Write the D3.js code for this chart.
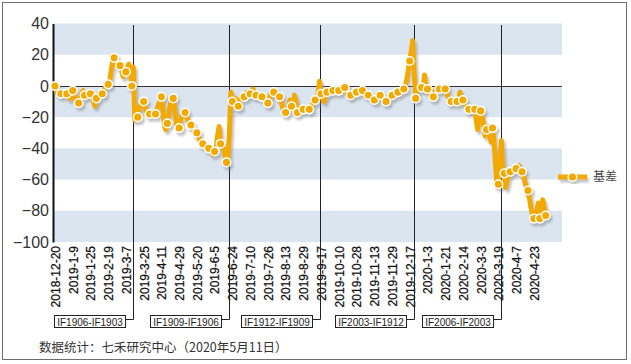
<!DOCTYPE html>
<html lang="zh">
<head>
<meta charset="UTF-8">
<title>基差</title>
<style>
  body { margin: 0; background: #fff; }
  svg text { font-family: "Liberation Sans", Arial, sans-serif; }
  .cn { font-family: "Noto Sans CJK SC", sans-serif; }
</style>
</head>
<body>
<svg class="chart"></svg>
<script src="https://cdn.jsdelivr.net/npm/d3@7/dist/d3.min.js"></script>
<script>
// tick labels, one every 12 trading days starting at index 0
var tickLabels = ["2018-12-20", "2019-1-9", "2019-1-25", "2019-2-19", "2019-3-7",
  "2019-3-25", "2019-4-11", "2019-4-29", "2019-5-20", "2019-6-5", "2019-6-24",
  "2019-7-10", "2019-7-26", "2019-8-13", "2019-8-29", "2019-9-17", "2019-10-10",
  "2019-10-28", "2019-11-13", "2019-11-29", "2019-12-17", "2020-1-3", "2020-1-21",
  "2020-2-14", "2020-3-3", "2020-3-19", "2020-4-7", "2020-4-23"];
var tickStep = 12;

// daily basis (IF main contract), 2018-12-20 .. 2020-5-11
var basis = [
  0, -3, -5, -6, -5, -4, -6, -5, -5, -7, -8, -4, -3, -6, -9, -10,
  -11, -8, -5, -3, -6, -7, -5, -4, -5, -7, -9, -13, -8, -6, -5, -6,
  -5, -3, -1, 0, 1, 3, 10, 16, 18, 15, 13, 12, 13, 11, 6, 8,
  9, 12, 14, 8, 0, 12, -22, -21, -20, -14, -12, -9, -10, -14, -17, -19,
  -18, -19, -17, -18, -18, -15, -12, -10, -7, -15, -25, -28, -24, -18, -12, -9,
  -8, -14, -24, -26, -27, -22, -18, -17, -17, -20, -22, -24, -25, -27, -28, -29,
  -30, -32, -35, -36, -37, -38, -39, -40, -40, -41, -43, -44, -42, -40, -32, -26,
  -37, -36, -40, -45, -49, -47, -30, -4, -10, -12, -8, -11, -13, -10, -7, -6,
  -7, -5, -4, -5, -5, -3, -2, -4, -6, -5, -6, -6, -7, -8, -9, -10,
  -11, -8, -5, -4, -4, -6, -7, -7, -7, -10, -14, -16, -17, -15, -13, -9,
  -13, -15, -6, -10, -17, -16, -15, -15, -15, -14, -15, -15, -15, -13, -12, -10,
  -9, -7, -5, 3, -5, -8, -10, -7, -4, -4, -3, -4, -3, -3, -2, -3,
  -3, -2, -1, -2, -1, -3, -5, -6, -6, -5, -4, -4, -4, -4, -3, -3,
  -3, -5, -6, -7, -6, -7, -8, -9, -9, -8, -7, -6, -6, -8, -9, -10,
  -10, -9, -7, -6, -6, -5, -4, -4, -4, -3, -2, -2, -2, 0, 4, 10,
  16, 22, 29, 8, -8, -3, -1, -1, -1, -2, 7, -3, -2, -4, -6, -7,
  -7, -4, -2, -2, -2, -2, -2, -2, -2, -4, -7, -9, -10, -11, -10, -10,
  -10, -9, -4, -8, -9, -11, -13, -14, -15, -15, -14, -15, -15, -22, -28, -18,
  -16, -20, -25, -32, -28, -26, -30, -36, -27, -35, -50, -64, -63, -50, -35, -55,
  -56, -65, -60, -57, -55, -54, -53, -54, -53, -52, -51, -53, -55, -58, -62, -65,
  -67, -72, -78, -82, -85, -86, -80, -75, -85, -80, -73, -78, -83, -82
];
var markerStep = 4;

// contract roll-over days and their labels
var rollIndex = [53, 118, 179, 243, 302];
var rollLabels = ["IF1906-IF1903", "IF1909-IF1906", "IF1912-IF1909", "IF2003-IF1912", "IF2006-IF2003"];

var yTicks = [40, 20, 0, -20, -40, -60, -80, -100];
var seriesName = "基差";
var note = "数据统计：七禾研究中心（2020年5月11日）";

var W = 631, H = 364;
var plot = {left: 53, right: 562, top: 23.5, bottom: 242};
var orange = "#f2a900";

var svg = d3.select(".chart").attr("width", W).attr("height", H);

var defs = svg.append("defs");
var f = defs.append("filter").attr("id", "shadow")
  .attr("x", "-10%").attr("y", "-10%").attr("width", "130%").attr("height", "130%");
f.append("feDropShadow").attr("dx", 2).attr("dy", 3).attr("stdDeviation", 1)
  .attr("flood-color", "#7a7a7a").attr("flood-opacity", 0.45);

// outer frame
svg.append("rect").attr("x", 2.5).attr("y", 2.5).attr("width", 624).attr("height", 357)
  .attr("fill", "#fff").attr("stroke", "#6e6e6e");

var x = d3.scaleLinear().domain([0, basis.length - 1]).range([55, 547.2]);
var y = d3.scaleLinear().domain([-100, 40]).range([plot.bottom, plot.top]);

// alternating bands
var bandPairs = d3.pairs(yTicks).filter(function(d, i) { return i % 2 === 0; });
svg.append("g").selectAll("rect").data(bandPairs).enter().append("rect")
  .attr("x", plot.left).attr("width", plot.right - plot.left)
  .attr("y", function(d) { return y(d[0]); })
  .attr("height", function(d) { return y(d[1]) - y(d[0]); })
  .attr("fill", "#dbe5f0");

// zero line
svg.append("line").attr("x1", plot.left).attr("x2", plot.right)
  .attr("y1", Math.round(y(0)) + 0.5).attr("y2", Math.round(y(0)) + 0.5)
  .attr("stroke", "#333");

// y axis
var yAxis = svg.append("g").attr("transform", "translate(" + plot.left + ",0)")
  .call(d3.axisLeft(y).tickValues(yTicks).tickSize(0).tickPadding(4));
yAxis.select(".domain").attr("stroke", "#111").attr("stroke-width", 2);
yAxis.selectAll("text").attr("font-size", 16).attr("fill", "#333")
  .style("font-family", "'Liberation Sans', Arial, sans-serif");

// x axis labels
var tickIdx = tickLabels.map(function(d, i) { return i * tickStep; });
var xAxis = svg.append("g").attr("transform", "translate(0," + plot.bottom + ")")
  .call(d3.axisBottom(x).tickValues(tickIdx).tickSize(0)
    .tickFormat(function(d, i) { return tickLabels[i]; }));
xAxis.select(".domain").remove();
xAxis.selectAll("text")
  .attr("transform", "rotate(-90)")
  .attr("text-anchor", "end")
  .attr("x", -4).attr("y", 0).attr("dy", "0.36em")
  .attr("font-size", 12).attr("fill", "#111")
  .attr("stroke", "#111").attr("stroke-width", 0.25)
  .style("font-family", "'Liberation Sans', Arial, sans-serif");

// roll-over lines with callout boxes
var roll = svg.append("g");
var boxY = 315.5, boxH = 12, linkY = 319.5;
rollIndex.forEach(function(idx, i) {
  var lx = Math.round(x(idx)) + 0.5;
  roll.append("path")
    .attr("d", "M" + lx + "," + 25 + "V" + linkY + "H" + (lx - 8))
    .attr("fill", "none").attr("stroke", "#222");
  var t = roll.append("text").text(rollLabels[i])
    .attr("font-size", 10).attr("fill", "#222")
    .attr("text-anchor", "middle").attr("dominant-baseline", "central");
  var w = 71;
  var bx = lx - 8 - w;
  roll.insert("rect", "text").attr("x", bx).attr("y", boxY).attr("width", w).attr("height", boxH)
    .attr("fill", "#fff").attr("stroke", "#222");
  t.attr("x", bx + w / 2).attr("y", boxY + boxH / 2 + 0.5);
});

// series
var series = svg.append("g").attr("filter", "url(#shadow)");
var line = d3.line().x(function(d, i) { return x(i); }).y(function(d) { return y(d); });
series.append("path").datum(basis).attr("d", line)
  .attr("fill", "none").attr("stroke", orange).attr("stroke-width", 5)
  .attr("stroke-linejoin", "round");
var markers = basis.map(function(v, i) { return {i: i, v: v}; })
  .filter(function(d) { return d.i % markerStep === 0; });
series.selectAll("circle").data(markers).enter().append("circle")
  .attr("cx", function(d) { return x(d.i); })
  .attr("cy", function(d) { return y(d.v); })
  .attr("r", 4.3).attr("fill", orange).attr("stroke", "#fff").attr("stroke-width", 1.5);

// legend
var lg = svg.append("g").attr("transform", "translate(558,177)");
var lgs = lg.append("g").attr("filter", "url(#shadow)");
lgs.append("line").attr("x1", 0).attr("x2", 29).attr("stroke", orange).attr("stroke-width", 5);
lgs.append("circle").attr("cx", 14.5).attr("r", 4.3).attr("fill", orange)
  .attr("stroke", "#fff").attr("stroke-width", 1.5);
lg.append("text").attr("class", "cn").attr("x", 35).attr("dy", "0.35em")
  .attr("font-size", 12).attr("fill", "#444").text(seriesName);

// source note
svg.append("text").attr("class", "cn").attr("x", 39).attr("y", 352)
  .attr("font-size", 12.5).attr("fill", "#333").text(note);
</script>
</body>
</html>
